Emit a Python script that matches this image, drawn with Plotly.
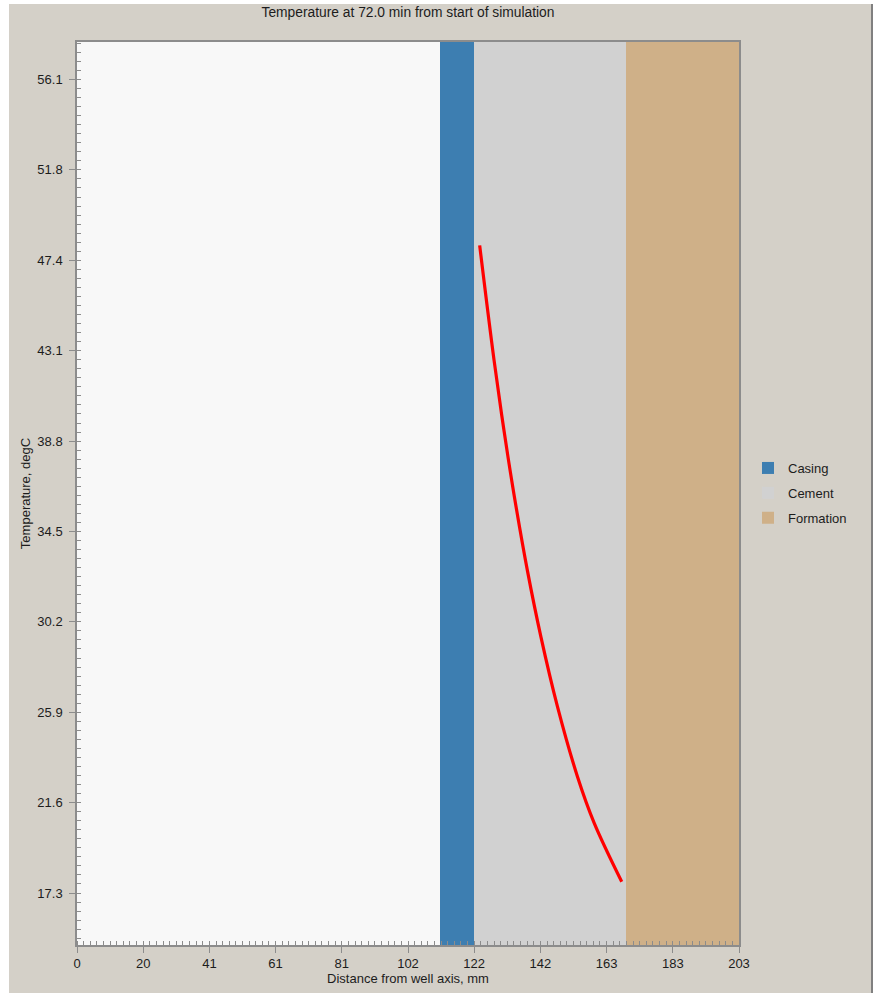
import numpy as np
import plotly.graph_objects as go

# ---- text ----
TITLE = "Temperature at 72.0 min from start of simulation"
X_TITLE = "Distance from well axis, mm"
Y_TITLE = "Temperature, degC"

# ---- axes ----
X_MAX_MM = 203.2
Y_MIN, Y_MAX = 14.82, 57.89
X_TICK_LABELS = ["0", "20", "41", "61", "81", "102", "122", "142", "163", "183", "203"]
Y_TICK_LABELS = ["17.3", "21.6", "25.9", "30.2", "34.5", "38.8", "43.1", "47.4", "51.8", "56.1"]

# ---- well construction layers (radial extents, mm) ----
LAYER_NAMES = ["Casing", "Cement", "Formation"]
LAYER_START_MM = [111.4, 121.8, 168.5]
LAYER_END_MM = [121.8, 168.5, 203.2]
LAYER_COLORS = ["#3d7eb1", "#d1d1d1", "#cfb088"]

# ---- temperature profile through the cement sheath ----
RADIUS_MM = [123.6, 128.0, 131.1, 134.2, 138.3, 142.4, 147.5, 153.6, 158.7, 167.2]
TEMP_C = [48.19, 42.73, 39.32, 36.25, 32.64, 29.52, 26.18, 22.86, 20.66, 17.84]

FONT = "Liberation Sans"
TEXT = "#1c1c1c"
AXIS_GREY = "#8c8c8c"
PANEL = "#d4d0c8"

fig = go.Figure()

for name, x0, x1, col in zip(LAYER_NAMES, LAYER_START_MM, LAYER_END_MM, LAYER_COLORS):
    fig.add_trace(go.Bar(
        x=[(x0 + x1) / 2], width=[x1 - x0],
        y=[Y_MAX - Y_MIN], base=[Y_MIN],
        name=name, legendgroup=name,
        marker=dict(color=col, line=dict(width=0)),
        hoverinfo="skip",
    ))

fig.add_trace(go.Scatter(
    x=RADIUS_MM, y=TEMP_C, mode="lines",
    line=dict(color="#ff0000", width=3.2, shape="spline", smoothing=1.0),
    showlegend=False,
))

x_tickvals = np.linspace(0, X_MAX_MM, len(X_TICK_LABELS))
y_tickvals = np.linspace(float(Y_TICK_LABELS[0]), float(Y_TICK_LABELS[-1]), len(Y_TICK_LABELS))
x_step = x_tickvals[1] - x_tickvals[0]
y_step = y_tickvals[1] - y_tickvals[0]

L, R, T, B = 77, 138, 42, 48
W, H = 877, 993
pw, ph = W - L - R, H - T - B


def px_x(p):
    return (p - L) / pw


def px_y(p):
    return (H - B - p) / ph


white_edge = dict(type="rect", xref="paper", yref="paper",
                  fillcolor="#ffffff", line=dict(width=0), layer="below")
shapes = [
    # white surround of the window panel
    dict(white_edge, x0=px_x(-2), x1=px_x(9), y0=px_y(H + 2), y1=px_y(-2)),
    dict(white_edge, x0=px_x(-2), x1=px_x(W + 2), y0=px_y(4), y1=px_y(-2)),
    dict(white_edge, x0=px_x(873), x1=px_x(W + 2), y0=px_y(H + 2), y1=px_y(-2)),
    # panel right edge
    dict(type="line", xref="paper", yref="paper",
         x0=px_x(872), x1=px_x(872), y0=px_y(H + 2), y1=px_y(4),
         line=dict(color="#808080", width=2), layer="below"),
]

fig.update_layout(
    width=W, height=H,
    margin=dict(l=L, r=R, t=T, b=B, autoexpand=False),
    paper_bgcolor=PANEL,
    plot_bgcolor="#f8f8f8",
    barmode="overlay",
    bargap=0,
    shapes=shapes,
    font=dict(family=FONT, size=13, color=TEXT),
    title=dict(text=TITLE, x=0.5, xref="paper", xanchor="center",
               y=1 - 12.5 / H, yref="container", yanchor="middle",
               font=dict(family=FONT, size=13.8, color=TEXT)),
    legend=dict(x=px_x(748), y=px_y(453), xanchor="left", yanchor="top",
                bgcolor="rgba(0,0,0,0)", traceorder="grouped",
                tracegroupgap=5, font=dict(family=FONT, size=13, color=TEXT)),
    showlegend=True,
)

fig.update_xaxes(
    range=[0, X_MAX_MM], tickmode="array", tickvals=x_tickvals, ticktext=X_TICK_LABELS,
    ticks="outside", ticklen=6, tickcolor=AXIS_GREY, tickwidth=1,
    showline=True, linecolor=AXIS_GREY, linewidth=1.5, mirror=True,
    showgrid=False, zeroline=False, automargin=False,
    tickfont=dict(family=FONT, size=13, color=TEXT),
    minor=dict(tickmode="linear", tick0=0, dtick=x_step / 10, ticks="inside",
               ticklen=4, tickcolor=AXIS_GREY, tickwidth=1, showgrid=False),
    title=dict(text=X_TITLE, standoff=0, font=dict(family=FONT, size=13, color=TEXT)),
)

fig.update_yaxes(
    range=[Y_MIN, Y_MAX], tickmode="array", tickvals=y_tickvals, ticktext=Y_TICK_LABELS,
    ticks="outside", ticklen=6, tickcolor=AXIS_GREY, tickwidth=1,
    showline=True, linecolor=AXIS_GREY, linewidth=1.5, mirror=True,
    showgrid=False, zeroline=False, automargin=False, ticklabelstandoff=4,
    tickfont=dict(family=FONT, size=13, color=TEXT),
    minor=dict(tickmode="linear", tick0=y_tickvals[0], dtick=y_step / 10, ticks="inside",
               ticklen=4, tickcolor=AXIS_GREY, tickwidth=1, showgrid=False),
    title=dict(text=Y_TITLE, standoff=4, font=dict(family=FONT, size=13, color=TEXT)),
)

fig.write_html("out.html")
